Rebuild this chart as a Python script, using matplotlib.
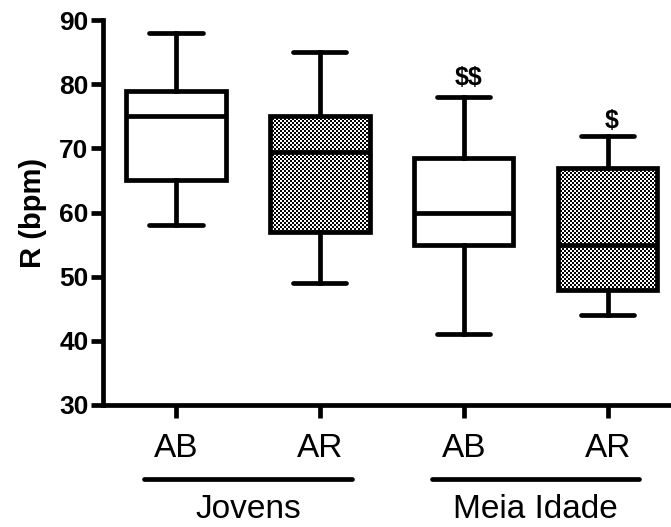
import numpy as np
import matplotlib
matplotlib.use("Agg")
import matplotlib.pyplot as plt
from matplotlib.transforms import blended_transform_factory

# ---- data ----
groups = ["Jovens", "Meia Idade"]
categories = ["AB", "AR", "AB", "AR"]
whislo = [58, 49, 41, 44]
q1 = [65, 57, 55, 48]
med = [75, 69.5, 60, 55]
q3 = [79, 75, 68.5, 67]
whishi = [88, 85, 78, 72]
checkered = [False, True, False, True]
annotations = ["", "", "$$", "$"]
annot_y = [None, None, 81.0, 74.2]
yticks = [30, 40, 50, 60, 70, 80, 90]

plt.rcParams['font.family'] = ['Liberation Sans', 'DejaVu Sans']

fig = plt.figure(figsize=(6.71, 5.27), dpi=100)
ax = fig.add_axes([0.1535, 0.2315, 1.0 - 0.1535, 0.962 - 0.2315])

positions = np.arange(1, len(categories) + 1)
stats = []
for i in range(len(categories)):
    stats.append(dict(med=med[i], q1=q1[i], q3=q3[i], whislo=whislo[i],
                      whishi=whishi[i], fliers=[], label=categories[i]))

lw = 3.4
bp = ax.bxp(stats, positions=positions, widths=0.69, capwidths=0.37,
            patch_artist=True, showfliers=False,
            boxprops=dict(facecolor='white', edgecolor='black', linewidth=lw),
            whiskerprops=dict(color='black', linewidth=lw),
            capprops=dict(color='black', linewidth=lw, solid_capstyle='round'),
            medianprops=dict(color='black', linewidth=lw))

ax.set_xlim(0.493, 4.44)
ax.set_ylim(30, 90)

# checkerboard fill
for i, box in enumerate(bp['boxes']):
    if not checkered[i]:
        continue
    x0, x1 = positions[i] - 0.345, positions[i] + 0.345
    p0 = ax.transData.transform((x0, q1[i]))
    p1 = ax.transData.transform((x1, q3[i]))
    nx = max(2, int(round(abs(p1[0] - p0[0]) / 2.0)))
    ny = max(2, int(round(abs(p1[1] - p0[1]) / 2.0)))
    board = (np.add.outer(np.arange(ny), np.arange(nx)) % 2).astype(float)
    im = ax.imshow(board, cmap='gray', extent=[x0, x1, q1[i], q3[i]],
                   interpolation='nearest', aspect='auto', zorder=2.5,
                   vmin=0, vmax=1)
    im.set_clip_path(box)
    box.set_zorder(2.6)
    box.set_facecolor('none')
ax.set_xlim(0.493, 4.44)
ax.set_ylim(30, 90)
ax.set_aspect('auto')

for line in bp['medians'] + bp['whiskers'] + bp['caps']:
    line.set_zorder(3)

# annotations
for i, t in enumerate(annotations):
    if t:
        ax.text(positions[i] + 0.03, annot_y[i], t, ha='center', va='center',
                fontsize=18, fontweight='bold', parse_math=False)

# axes style
for s in ['top', 'right']:
    ax.spines[s].set_visible(False)
for s in ['left', 'bottom']:
    ax.spines[s].set_linewidth(lw)
    ax.spines[s].set_capstyle('projecting')

ax.set_yticks(yticks)
ax.set_yticklabels([str(v) for v in yticks], fontsize=19, fontweight='bold')
ax.tick_params(axis='y', length=9, width=lw, pad=1.5)
ax.set_xticks(positions)
ax.set_xticklabels(categories, fontsize=24)
ax.tick_params(axis='x', length=9, width=lw, pad=11)
ax.set_ylabel("R (bpm)", fontsize=21, fontweight='bold', labelpad=9)

# group labels
trans = blended_transform_factory(ax.transData, ax.transAxes)
for g, name in enumerate(groups):
    a, b = positions[2 * g], positions[2 * g + 1]
    ax.plot([a - 0.22, b + 0.22], [-0.192, -0.192], transform=trans,
            color='black', linewidth=lw, solid_capstyle='round', clip_on=False)
    ax.text((a + b) / 2, -0.2935, name, transform=trans, ha='center',
            va='baseline', fontsize=24)

fig.savefig("out.png", dpi=100)
